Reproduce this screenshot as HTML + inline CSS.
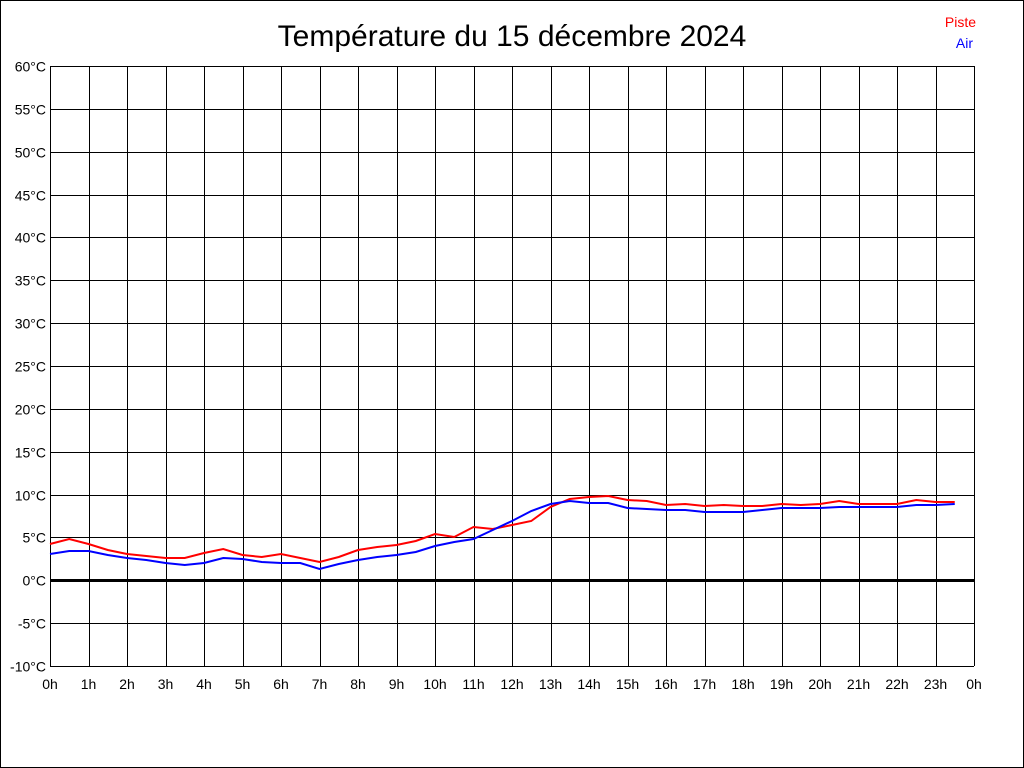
<!DOCTYPE html><html><head><meta charset="utf-8"><style>body{margin:0;background:#fff}svg{display:block}</style></head><body>
<svg width="1024" height="768" xmlns="http://www.w3.org/2000/svg" font-family="Liberation Sans, sans-serif">
<rect x="0.5" y="0.5" width="1023" height="767" fill="#fff" stroke="#000"/>
<text x="512" y="46" font-size="30" text-anchor="middle">Température du 15 décembre 2024</text>
<text x="976" y="27" font-size="14" fill="#f00" text-anchor="end">Piste</text>
<text x="973" y="48" font-size="14" fill="#00f" text-anchor="end">Air</text>
<g id="g" stroke="#000" stroke-width="1"></g>
<g id="t" font-size="14"></g>
<polyline id="r" fill="none" stroke="#f00" stroke-width="2"/>
<polyline id="b" fill="none" stroke="#00f" stroke-width="2"/>
</svg>
<script>
var g=document.getElementById('g'),t=document.getElementById('t'),s='',tt='';
for(var i=0;i<=24;i++){var x=50+38.5*i;s+='<line x1="'+(Math.round(x)+.5)+'" y1="66" x2="'+(Math.round(x)+.5)+'" y2="666"/>';tt+='<text x="'+x+'" y="689" text-anchor="middle">'+(i%24)+'h</text>';}
for(var v=60;v>=-10;v-=5){var y=Math.round(66+(60-v)*600/70)+.5;s+='<line x1="50" y1="'+y+'" x2="974" y2="'+y+'"'+(v==0?' stroke-width="3"':'')+'/>';tt+='<text x="46" y="'+(y+5)+'" text-anchor="end">'+v+'°C</text>';}
g.innerHTML=s;t.innerHTML=tt;
var R=[544,539,544,550,554,556,558,558,553,549,555,557,554,558,562,557,550,547,545,541,534,537,527,529,525,521,507,499,497,496,500,501,505,504,506,505,506,506,504,505,504,501,504,504,504,500,502,502];
var B=[554,551,551,555,558,560,563,565,563,558,559,562,563,563,569,564,560,557,555,552,546,542,539,530,521,511,504,501,503,503,508,509,510,510,512,512,512,510,508,508,508,507,507,507,507,505,505,504];
function p(a){return a.map(function(y,i){return (50+19.25*i)+','+y}).join(' ')}
document.getElementById('r').setAttribute('points',p(R));
document.getElementById('b').setAttribute('points',p(B));
</script>
</body></html>
